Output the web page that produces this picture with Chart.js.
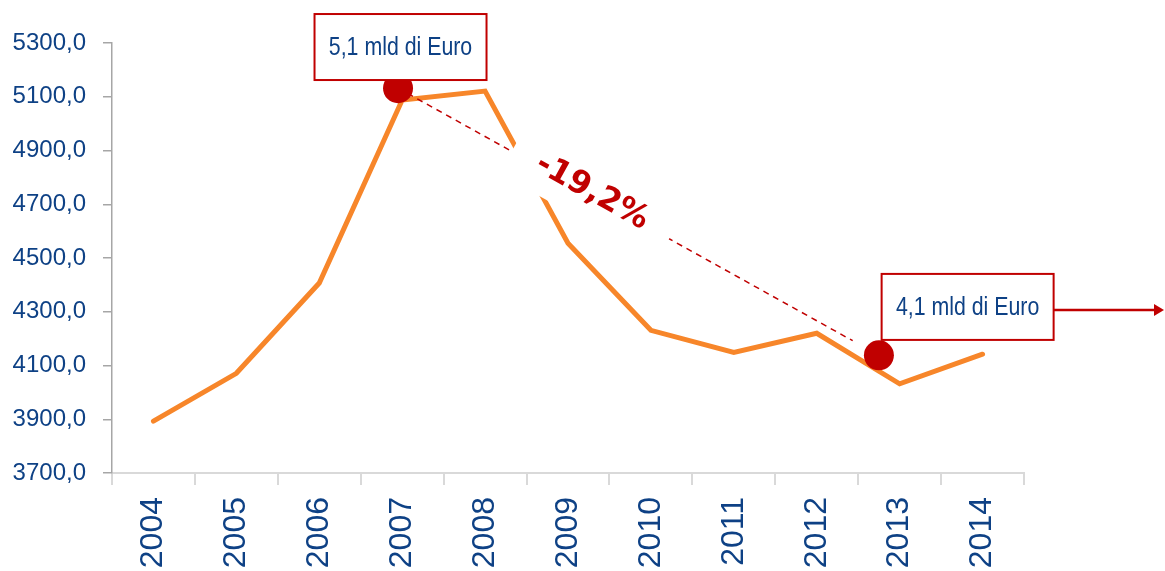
<!DOCTYPE html>
<html>
<head>
<meta charset="utf-8">
<script src="https://cdn.jsdelivr.net/npm/chart.js@4/dist/chart.umd.min.js"></script>
<style>
  html, body { margin: 0; padding: 0; background: #fff; }
  #wrap { width: 1165px; height: 571px; position: relative; }
</style>
</head>
<body>
<div id="wrap"><canvas id="chart"></canvas></div>
<script>
  const years  = ["2004", "2005", "2006", "2007", "2008", "2009", "2010", "2011", "2012", "2013", "2014"];
  const values = [3893, 4071, 4407, 5088, 5121, 4555, 4231, 4149, 4220, 4032, 4142];
  const yTicks = { min: 3700, max: 5300, step: 200 };

  /* annotation anchors in data units (x = fractional category index) */
  const peakDot  = { x: 2.95, y: 5132 };
  const lowDot   = { x: 8.75, y: 4138 };
  const peakNote = { x: 2.98, y: 5285, text: "5,1 mld di Euro" };
  const lowNote  = { x: 9.82, y: 4318, text: "4,1 mld di Euro" };
  const change   = { x: 5.29, y: 4745, text: "-19,2%" };

  const BLUE = "#0e4185";
  const RED  = "#c00000";
  const ORANGE = "#f7862a";

  const notes = {
    id: "notes",
    afterDatasetsDraw(chart) {
      const ctx = chart.ctx;
      const xs = chart.scales.x, ys = chart.scales.y;
      const px = p => [xs.getPixelForValue(p.x), ys.getPixelForValue(p.y)];
      const [ax, ay] = px(peakDot), [bx, by] = px(lowDot);
      const ang = Math.atan2(by - ay, bx - ax);
      const len = Math.hypot(bx - ax, by - ay) - 30;

      ctx.save();
      // dashed trend line between the two dots
      ctx.strokeStyle = RED;
      ctx.lineWidth = 1.5;
      ctx.setLineDash([6, 5]);
      ctx.beginPath();
      ctx.moveTo(ax, ay);
      ctx.lineTo(ax + Math.cos(ang) * len, ay + Math.sin(ang) * len);
      ctx.stroke();
      ctx.setLineDash([]);

      // rotated percentage label with white backing
      const [cx, cy] = px(change);
      ctx.translate(cx, cy);
      ctx.rotate(ang);
      ctx.fillStyle = "#fff";
      ctx.fillRect(-90, -29, 180, 58);
      ctx.fillStyle = RED;
      ctx.font = "bold 32px 'DejaVu Sans'";
      ctx.textAlign = "center";
      ctx.textBaseline = "middle";
      ctx.fillText(change.text, 0, 0);
      ctx.setTransform(1, 0, 0, 1, 0, 0);

      // dots
      ctx.fillStyle = RED;
      [[ax, ay], [bx, by]].forEach(function (d) {
        ctx.beginPath();
        ctx.arc(d[0], d[1], 15, 0, Math.PI * 2);
        ctx.fill();
      });

      // boxed notes (text squeezed to look like a narrow face)
      function box(n) {
        const [nx, ny] = px(n);
        const w = 172, h = 66;
        ctx.fillStyle = "#fff";
        ctx.fillRect(nx - w / 2, ny - h / 2, w, h);
        ctx.strokeStyle = RED;
        ctx.lineWidth = 2;
        ctx.strokeRect(nx - w / 2, ny - h / 2, w, h);
        ctx.save();
        ctx.translate(nx, ny + 1);
        ctx.scale(0.82, 1);
        ctx.fillStyle = BLUE;
        ctx.font = "26px 'Liberation Sans', Arial, sans-serif";
        ctx.textAlign = "center";
        ctx.textBaseline = "middle";
        ctx.fillText(n.text, 0, 0);
        ctx.restore();
        return [nx + w / 2, ny];
      }
      box(peakNote);
      const [ex, ey] = box(lowNote);

      // arrow pointing out to the right
      const end = chart.width - 1;
      ctx.strokeStyle = RED;
      ctx.lineWidth = 2.5;
      ctx.beginPath();
      ctx.moveTo(ex, ey + 3);
      ctx.lineTo(end - 8, ey + 3);
      ctx.stroke();
      ctx.fillStyle = RED;
      ctx.beginPath();
      ctx.moveTo(end, ey + 3);
      ctx.lineTo(end - 10, ey - 3);
      ctx.lineTo(end - 10, ey + 9);
      ctx.closePath();
      ctx.fill();
      ctx.restore();
    }
  };

  new Chart(document.getElementById("chart"), {
    type: "line",
    data: {
      labels: years,
      datasets: [{
        data: values,
        borderColor: ORANGE,
        borderWidth: 5,
        pointRadius: 0,
        tension: 0,
        borderCapStyle: "round",
        borderJoinStyle: "miter"
      }]
    },
    options: {
      responsive: true,
      maintainAspectRatio: false,
      animation: false,
      layout: { padding: { top: 43, right: 141, left: 0, bottom: 0 } },
      plugins: { legend: { display: false }, tooltip: { enabled: false } },
      scales: {
        x: {
          offset: true,
          grid: { offset: true, drawOnChartArea: false, tickLength: 12, color: "#d9d9d9", lineWidth: 2 },
          border: { color: "#d9d9d9", width: 2 },
          ticks: {
            color: BLUE, padding: 12, minRotation: 90, maxRotation: 90,
            font: { family: "'Liberation Sans', Arial, sans-serif", size: 32 }
          },
          afterFit(s) { s.height = 98; }
        },
        y: {
          min: yTicks.min, max: yTicks.max,
          grid: { drawOnChartArea: false, tickLength: 9, color: "#a6a6a6", lineWidth: 1.5 },
          border: { color: "#a6a6a6", width: 1.5 },
          ticks: {
            stepSize: yTicks.step, color: BLUE, padding: 17,
            font: { family: "'Liberation Sans', Arial, sans-serif", size: 24 },
            callback: v => v.toFixed(1).replace(".", ",")
          },
          afterFit(s) { s.width = 112; }
        }
      }
    },
    plugins: [notes]
  });
</script>
</body>
</html>
